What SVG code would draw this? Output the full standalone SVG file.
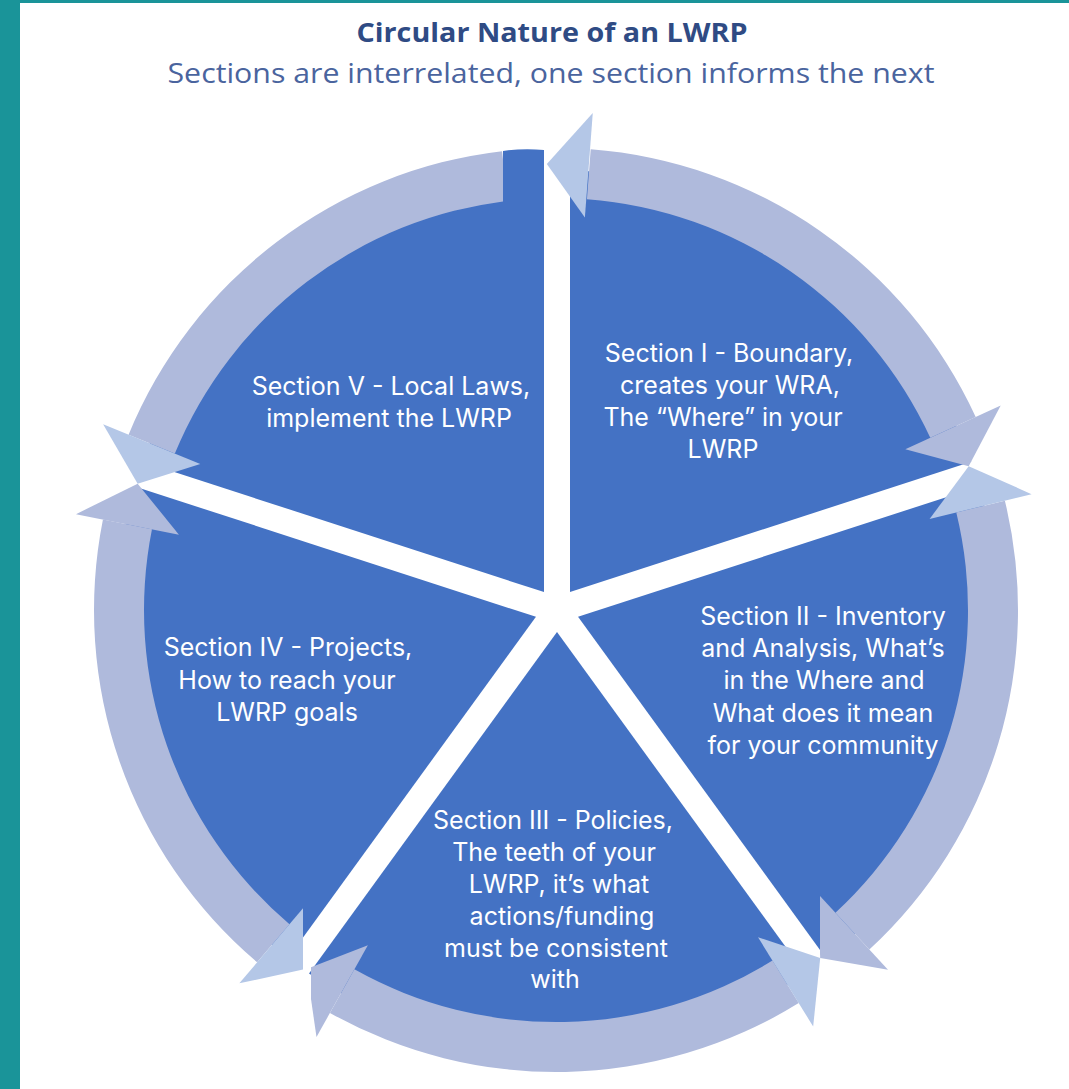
<svg xmlns="http://www.w3.org/2000/svg" width="1069" height="1089" viewBox="0 0 1069 1089">
  <defs>
    <style>
      .seg { fill: #4472C4; }
      .ring { fill: #AFBADC; }
      .lite { fill: #B4C7E7; }
      .lbl { font-family: Inter, "Open Sans", "Liberation Sans", sans-serif; font-size: 25px; fill: #FFFFFF; text-anchor: middle; }
      .title { font-family: "Open Sans", "Liberation Sans", sans-serif; font-size: 27px; font-weight: 700; fill: #2F4B84; text-anchor: middle; }
      .sub { font-family: "Open Sans", "Liberation Sans", sans-serif; font-size: 27px; fill: #4A649E; text-anchor: middle; }
    </style>
    <path id="sector" d="M17.89,13 L439.81,13 A440,440 0 0 1 148.27,414.26 Z"/>
    <path id="arcBody" d="M459.87,44.34 A462,462 0 0 1 184.27,423.66 L164.33,377.81 A412,412 0 0 0 410.10,39.54 Z"/>
    <path id="endHead" d="M195.24,448.88 L135.04,415.61 L153.36,352.59 Z"/>
    <path id="liteHead" d="M437,0 L487.24,46.98 L382.73,36.90 Z"/>
    <clipPath id="clipII"><rect x="820" y="0" width="249" height="1089"/></clipPath>
    <clipPath id="clipIII"><rect x="311" y="0" width="511" height="1089"/></clipPath>
    <clipPath id="clipIV"><rect x="0" y="0" width="303" height="1089"/></clipPath>
    <clipPath id="clipV"><rect x="0" y="0" width="503" height="1089"/></clipPath>
  </defs>

  <rect x="0" y="0" width="1069" height="1089" fill="#FFFFFF"/>
  <rect x="0" y="0" width="1069" height="3" fill="#1A9499"/>
  <rect x="0" y="0" width="20" height="1089" fill="#1A9499"/>

  <text class="title" x="552" y="42" textLength="391" lengthAdjust="spacingAndGlyphs">Circular Nature of an LWRP</text>
  <text class="sub" x="551" y="83" textLength="767" lengthAdjust="spacingAndGlyphs">Sections are interrelated, one section informs the next</text>

  <g id="segment-1">
    <use href="#sector" class="seg" transform="translate(557,610) rotate(-90)"/>
    <text class="lbl" x="729" y="362">Section I - Boundary,</text>
    <text class="lbl" x="730" y="394">creates your WRA,</text>
    <text class="lbl" x="723" y="426">The “Where” in your</text>
    <text class="lbl" x="723" y="458">LWRP</text>
  </g>
  <g id="segment-2">
    <use href="#sector" class="seg" transform="translate(557,610) rotate(-18)"/>
    <text class="lbl" x="823" y="625">Section II - Inventory</text>
    <text class="lbl" x="823" y="657">and Analysis, What’s</text>
    <text class="lbl" x="824" y="689">in the Where and</text>
    <text class="lbl" x="823" y="722">What does it mean</text>
    <text class="lbl" x="823" y="754">for your community</text>
  </g>
  <g id="segment-3">
    <use href="#sector" class="seg" transform="translate(557,610) rotate(54)"/>
    <text class="lbl" x="553" y="829">Section III - Policies,</text>
    <text class="lbl" x="554" y="861">The teeth of your</text>
    <text class="lbl" x="559" y="893">LWRP, it’s what</text>
    <text class="lbl" x="562" y="925">actions/funding</text>
    <text class="lbl" x="556" y="957">must be consistent</text>
    <text class="lbl" x="555" y="988">with</text>
  </g>
  <g id="segment-4">
    <use href="#sector" class="seg" transform="translate(557,610) rotate(126)"/>
    <text class="lbl" x="288" y="656">Section IV - Projects,</text>
    <text class="lbl" x="287" y="689">How to reach your</text>
    <text class="lbl" x="287" y="721">LWRP goals</text>
  </g>
  <g id="segment-5">
    <use href="#sector" class="seg" transform="translate(557,610) rotate(198)"/>
    <path class="seg" d="M503,178 L503,151 Q523,148 544,150 L544,178 Z"/>
    <text class="lbl" x="391" y="395">Section V - Local Laws,</text>
    <text class="lbl" x="389" y="427">implement the LWRP</text>
  </g>

  <g id="connectors">
    <g id="arrow-1">
      <use href="#arcBody" class="ring" transform="translate(556,610) rotate(-91.2)"/>
      <use href="#endHead" class="ring" transform="translate(556,610) rotate(-91.2)"/>
      <use href="#liteHead" class="lite" transform="translate(0,-9) translate(556,610) rotate(-91.2)"/>
    </g>
    <g id="arrow-2" clip-path="url(#clipII)">
      <use href="#arcBody" class="ring" transform="translate(556,610) rotate(-19.2)"/>
      <use href="#endHead" class="ring" transform="translate(556,610) rotate(-19.2)"/>
      <use href="#liteHead" class="lite" transform="translate(556,610) rotate(-19.2)"/>
    </g>
    <g id="arrow-3" clip-path="url(#clipIII)">
      <use href="#arcBody" class="ring" transform="translate(556,610) rotate(52.8)"/>
      <use href="#endHead" class="ring" transform="translate(556,610) rotate(52.8)"/>
      <use href="#liteHead" class="lite" transform="translate(556,610) rotate(52.8)"/>
    </g>
    <g id="arrow-4" clip-path="url(#clipIV)">
      <use href="#arcBody" class="ring" transform="translate(556,610) rotate(124.8)"/>
      <use href="#endHead" class="ring" transform="translate(556,610) rotate(124.8)"/>
      <use href="#liteHead" class="lite" transform="translate(556,610) rotate(124.8)"/>
    </g>
    <g id="arrow-5" clip-path="url(#clipV)">
      <use href="#arcBody" class="ring" transform="translate(556,610) rotate(196.8)"/>
      <use href="#liteHead" class="lite" transform="translate(556,610) rotate(196.8)"/>
    </g>
  </g>
</svg>
